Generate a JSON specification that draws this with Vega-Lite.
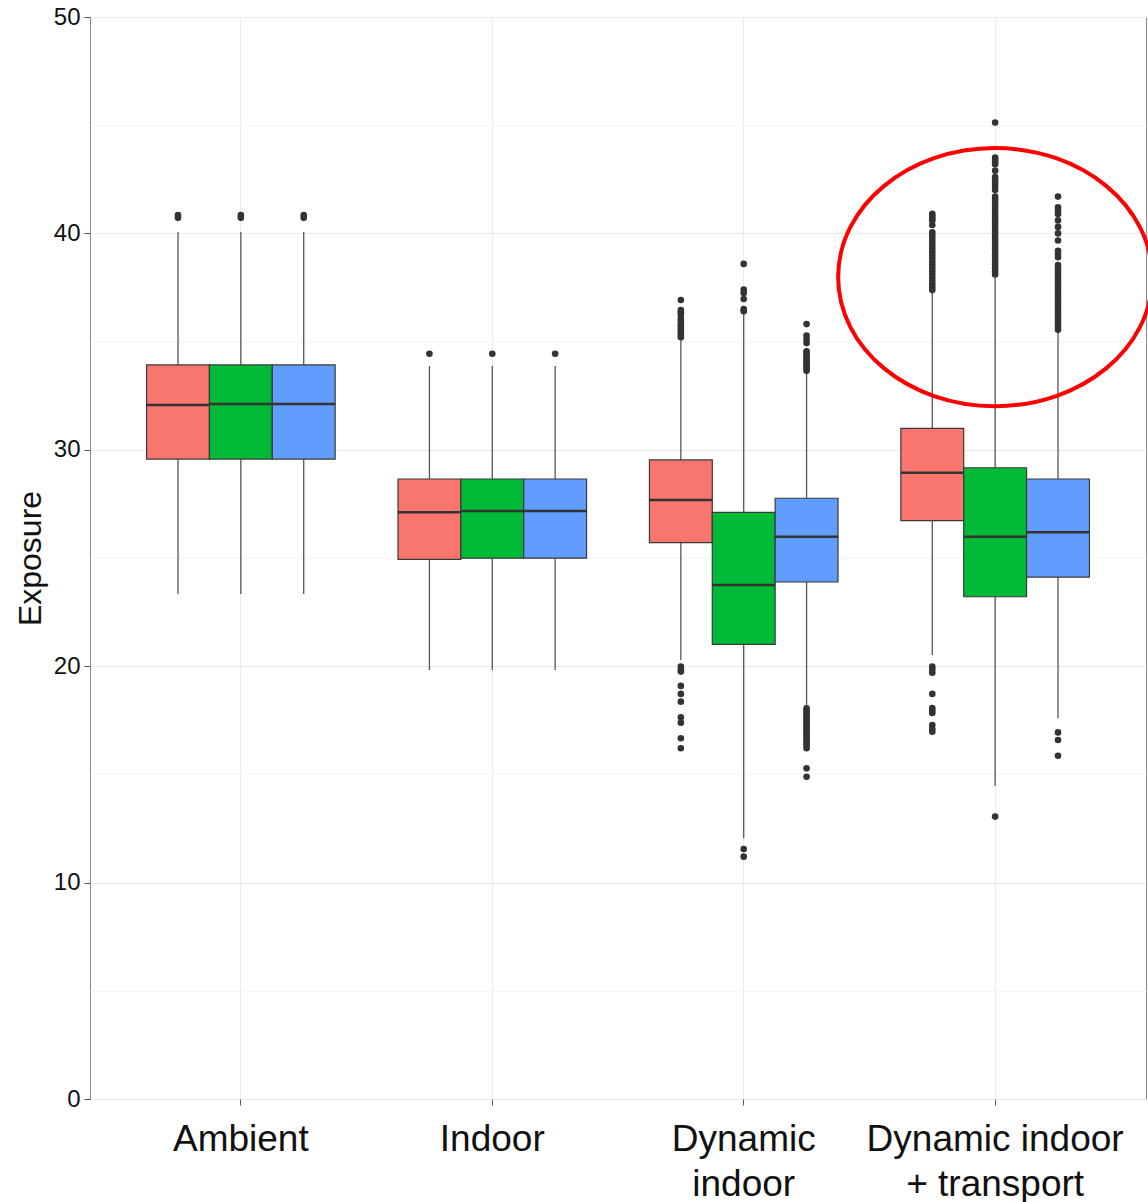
{
  "$schema": "https://vega.github.io/schema/vega-lite/v6.json",
  "width": 1056,
  "height": 1082,
  "autosize": "none",
  "padding": {"left": 90, "top": 17, "right": 2, "bottom": 103},
  "background": "white",
  "config": {
    "view": {"stroke": "#8a8a8a", "strokeWidth": 1},
    "font": "Liberation Sans",
    "axis": {"domain": false, "labelFont": "Liberation Sans", "titleFont": "Liberation Sans", "labelColor": "#111", "titleColor": "#111", "titleFontWeight": "normal"}
  },
  "datasets": {
    "boxes": [
      {"cat": "Ambient", "grp": "G1", "lo": 23.34, "q1": 29.57, "med": 32.07, "q3": 33.92, "hi": 40.06},
      {"cat": "Ambient", "grp": "G2", "lo": 23.34, "q1": 29.57, "med": 32.12, "q3": 33.92, "hi": 40.06},
      {"cat": "Ambient", "grp": "G3", "lo": 23.34, "q1": 29.57, "med": 32.12, "q3": 33.92, "hi": 40.06},
      {"cat": "Indoor", "grp": "G1", "lo": 19.82, "q1": 24.94, "med": 27.11, "q3": 28.65, "hi": 33.87},
      {"cat": "Indoor", "grp": "G2", "lo": 19.82, "q1": 24.99, "med": 27.17, "q3": 28.65, "hi": 33.87},
      {"cat": "Indoor", "grp": "G3", "lo": 19.82, "q1": 24.99, "med": 27.17, "q3": 28.65, "hi": 33.87},
      {"cat": "Dynamic indoor", "grp": "G1", "lo": 20.29, "q1": 25.71, "med": 27.68, "q3": 29.53, "hi": 35.07},
      {"cat": "Dynamic indoor", "grp": "G2", "lo": 12.05, "q1": 21.01, "med": 23.75, "q3": 27.11, "hi": 36.3},
      {"cat": "Dynamic indoor", "grp": "G3", "lo": 18.21, "q1": 23.89, "med": 25.98, "q3": 27.76, "hi": 33.55},
      {"cat": "Dynamic indoor + transport", "grp": "G1", "lo": 20.52, "q1": 26.73, "med": 28.94, "q3": 30.99, "hi": 37.3},
      {"cat": "Dynamic indoor + transport", "grp": "G2", "lo": 14.46, "q1": 23.21, "med": 25.98, "q3": 29.17, "hi": 38.0},
      {"cat": "Dynamic indoor + transport", "grp": "G3", "lo": 17.59, "q1": 24.12, "med": 26.19, "q3": 28.65, "hi": 35.45}
    ],
    "outliers": [
      {"cat": "Ambient", "grp": "G1", "v": 40.72}, {"cat": "Ambient", "grp": "G1", "v": 40.85},
      {"cat": "Ambient", "grp": "G2", "v": 40.72}, {"cat": "Ambient", "grp": "G2", "v": 40.85},
      {"cat": "Ambient", "grp": "G3", "v": 40.72}, {"cat": "Ambient", "grp": "G3", "v": 40.85},
      {"cat": "Indoor", "grp": "G1", "v": 34.44},
      {"cat": "Indoor", "grp": "G2", "v": 34.44},
      {"cat": "Indoor", "grp": "G3", "v": 34.44},

      {"cat": "Dynamic indoor", "grp": "G1", "v": 36.92}, {"cat": "Dynamic indoor", "grp": "G1", "v": 36.46},
      {"cat": "Dynamic indoor", "grp": "G1", "v": 36.35}, {"cat": "Dynamic indoor", "grp": "G1", "v": 36.25},
      {"cat": "Dynamic indoor", "grp": "G1", "v": 36.05}, {"cat": "Dynamic indoor", "grp": "G1", "v": 35.95},
      {"cat": "Dynamic indoor", "grp": "G1", "v": 35.8}, {"cat": "Dynamic indoor", "grp": "G1", "v": 35.7},
      {"cat": "Dynamic indoor", "grp": "G1", "v": 35.6}, {"cat": "Dynamic indoor", "grp": "G1", "v": 35.5},
      {"cat": "Dynamic indoor", "grp": "G1", "v": 35.4}, {"cat": "Dynamic indoor", "grp": "G1", "v": 35.3},
      {"cat": "Dynamic indoor", "grp": "G1", "v": 35.2},
      {"cat": "Dynamic indoor", "grp": "G1", "v": 19.98}, {"cat": "Dynamic indoor", "grp": "G1", "v": 19.85},
      {"cat": "Dynamic indoor", "grp": "G1", "v": 19.75}, {"cat": "Dynamic indoor", "grp": "G1", "v": 19.09},
      {"cat": "Dynamic indoor", "grp": "G1", "v": 18.72}, {"cat": "Dynamic indoor", "grp": "G1", "v": 18.36},
      {"cat": "Dynamic indoor", "grp": "G1", "v": 17.64}, {"cat": "Dynamic indoor", "grp": "G1", "v": 17.39},
      {"cat": "Dynamic indoor", "grp": "G1", "v": 16.67}, {"cat": "Dynamic indoor", "grp": "G1", "v": 16.21},
      {"cat": "Dynamic indoor", "grp": "G2", "v": 38.59}, {"cat": "Dynamic indoor", "grp": "G2", "v": 37.4},
      {"cat": "Dynamic indoor", "grp": "G2", "v": 37.25}, {"cat": "Dynamic indoor", "grp": "G2", "v": 36.97},
      {"cat": "Dynamic indoor", "grp": "G2", "v": 36.5}, {"cat": "Dynamic indoor", "grp": "G2", "v": 36.4},
      {"cat": "Dynamic indoor", "grp": "G2", "v": 11.55}, {"cat": "Dynamic indoor", "grp": "G2", "v": 11.2},
      {"cat": "Dynamic indoor", "grp": "G3", "v": 35.81}, {"cat": "Dynamic indoor", "grp": "G3", "v": 35.28},
      {"cat": "Dynamic indoor", "grp": "G3", "v": 35.1}, {"cat": "Dynamic indoor", "grp": "G3", "v": 34.93},
      {"cat": "Dynamic indoor", "grp": "G3", "v": 34.55}, {"cat": "Dynamic indoor", "grp": "G3", "v": 34.45},
      {"cat": "Dynamic indoor", "grp": "G3", "v": 34.35}, {"cat": "Dynamic indoor", "grp": "G3", "v": 34.25},
      {"cat": "Dynamic indoor", "grp": "G3", "v": 34.15}, {"cat": "Dynamic indoor", "grp": "G3", "v": 34.05},
      {"cat": "Dynamic indoor", "grp": "G3", "v": 33.95}, {"cat": "Dynamic indoor", "grp": "G3", "v": 33.85},
      {"cat": "Dynamic indoor", "grp": "G3", "v": 33.75}, {"cat": "Dynamic indoor", "grp": "G3", "v": 33.65},
      {"cat": "Dynamic indoor", "grp": "G3", "v": 18.05}, {"cat": "Dynamic indoor", "grp": "G3", "v": 17.95},
      {"cat": "Dynamic indoor", "grp": "G3", "v": 17.85}, {"cat": "Dynamic indoor", "grp": "G3", "v": 17.75},
      {"cat": "Dynamic indoor", "grp": "G3", "v": 17.65}, {"cat": "Dynamic indoor", "grp": "G3", "v": 17.55},
      {"cat": "Dynamic indoor", "grp": "G3", "v": 17.45}, {"cat": "Dynamic indoor", "grp": "G3", "v": 17.35},
      {"cat": "Dynamic indoor", "grp": "G3", "v": 17.25}, {"cat": "Dynamic indoor", "grp": "G3", "v": 17.15},
      {"cat": "Dynamic indoor", "grp": "G3", "v": 17.05}, {"cat": "Dynamic indoor", "grp": "G3", "v": 16.95},
      {"cat": "Dynamic indoor", "grp": "G3", "v": 16.85}, {"cat": "Dynamic indoor", "grp": "G3", "v": 16.75},
      {"cat": "Dynamic indoor", "grp": "G3", "v": 16.65}, {"cat": "Dynamic indoor", "grp": "G3", "v": 16.55},
      {"cat": "Dynamic indoor", "grp": "G3", "v": 16.45}, {"cat": "Dynamic indoor", "grp": "G3", "v": 16.35},
      {"cat": "Dynamic indoor", "grp": "G3", "v": 16.21}, {"cat": "Dynamic indoor", "grp": "G3", "v": 15.28},
      {"cat": "Dynamic indoor", "grp": "G3", "v": 14.89},

      {"cat": "Dynamic indoor + transport", "grp": "G1", "v": 40.9}, {"cat": "Dynamic indoor + transport", "grp": "G1", "v": 40.8},
      {"cat": "Dynamic indoor + transport", "grp": "G1", "v": 40.7}, {"cat": "Dynamic indoor + transport", "grp": "G1", "v": 40.6},
      {"cat": "Dynamic indoor + transport", "grp": "G1", "v": 40.39}, {"cat": "Dynamic indoor + transport", "grp": "G1", "v": 40.05},
      {"cat": "Dynamic indoor + transport", "grp": "G1", "v": 39.9}, {"cat": "Dynamic indoor + transport", "grp": "G1", "v": 39.75},
      {"cat": "Dynamic indoor + transport", "grp": "G1", "v": 39.6}, {"cat": "Dynamic indoor + transport", "grp": "G1", "v": 39.45},
      {"cat": "Dynamic indoor + transport", "grp": "G1", "v": 39.3}, {"cat": "Dynamic indoor + transport", "grp": "G1", "v": 39.15},
      {"cat": "Dynamic indoor + transport", "grp": "G1", "v": 39.0}, {"cat": "Dynamic indoor + transport", "grp": "G1", "v": 38.85},
      {"cat": "Dynamic indoor + transport", "grp": "G1", "v": 38.7}, {"cat": "Dynamic indoor + transport", "grp": "G1", "v": 38.55},
      {"cat": "Dynamic indoor + transport", "grp": "G1", "v": 38.4}, {"cat": "Dynamic indoor + transport", "grp": "G1", "v": 38.25},
      {"cat": "Dynamic indoor + transport", "grp": "G1", "v": 38.1}, {"cat": "Dynamic indoor + transport", "grp": "G1", "v": 37.95},
      {"cat": "Dynamic indoor + transport", "grp": "G1", "v": 37.8}, {"cat": "Dynamic indoor + transport", "grp": "G1", "v": 37.65},
      {"cat": "Dynamic indoor + transport", "grp": "G1", "v": 37.5}, {"cat": "Dynamic indoor + transport", "grp": "G1", "v": 37.38},
      {"cat": "Dynamic indoor + transport", "grp": "G1", "v": 19.98}, {"cat": "Dynamic indoor + transport", "grp": "G1", "v": 19.85},
      {"cat": "Dynamic indoor + transport", "grp": "G1", "v": 19.7}, {"cat": "Dynamic indoor + transport", "grp": "G1", "v": 18.72},
      {"cat": "Dynamic indoor + transport", "grp": "G1", "v": 18.07}, {"cat": "Dynamic indoor + transport", "grp": "G1", "v": 17.95},
      {"cat": "Dynamic indoor + transport", "grp": "G1", "v": 17.84}, {"cat": "Dynamic indoor + transport", "grp": "G1", "v": 17.28},
      {"cat": "Dynamic indoor + transport", "grp": "G1", "v": 17.1}, {"cat": "Dynamic indoor + transport", "grp": "G1", "v": 16.97},
      {"cat": "Dynamic indoor + transport", "grp": "G2", "v": 45.12}, {"cat": "Dynamic indoor + transport", "grp": "G2", "v": 43.5},
      {"cat": "Dynamic indoor + transport", "grp": "G2", "v": 43.4}, {"cat": "Dynamic indoor + transport", "grp": "G2", "v": 43.3},
      {"cat": "Dynamic indoor + transport", "grp": "G2", "v": 43.2}, {"cat": "Dynamic indoor + transport", "grp": "G2", "v": 42.9},
      {"cat": "Dynamic indoor + transport", "grp": "G2", "v": 42.6}, {"cat": "Dynamic indoor + transport", "grp": "G2", "v": 42.45},
      {"cat": "Dynamic indoor + transport", "grp": "G2", "v": 42.3}, {"cat": "Dynamic indoor + transport", "grp": "G2", "v": 42.15},
      {"cat": "Dynamic indoor + transport", "grp": "G2", "v": 42.0}, {"cat": "Dynamic indoor + transport", "grp": "G2", "v": 41.7},
      {"cat": "Dynamic indoor + transport", "grp": "G2", "v": 41.55}, {"cat": "Dynamic indoor + transport", "grp": "G2", "v": 41.4},
      {"cat": "Dynamic indoor + transport", "grp": "G2", "v": 41.25}, {"cat": "Dynamic indoor + transport", "grp": "G2", "v": 41.1},
      {"cat": "Dynamic indoor + transport", "grp": "G2", "v": 40.95}, {"cat": "Dynamic indoor + transport", "grp": "G2", "v": 40.8},
      {"cat": "Dynamic indoor + transport", "grp": "G2", "v": 40.65}, {"cat": "Dynamic indoor + transport", "grp": "G2", "v": 40.5},
      {"cat": "Dynamic indoor + transport", "grp": "G2", "v": 40.35}, {"cat": "Dynamic indoor + transport", "grp": "G2", "v": 40.2},
      {"cat": "Dynamic indoor + transport", "grp": "G2", "v": 40.05}, {"cat": "Dynamic indoor + transport", "grp": "G2", "v": 39.9},
      {"cat": "Dynamic indoor + transport", "grp": "G2", "v": 39.75}, {"cat": "Dynamic indoor + transport", "grp": "G2", "v": 39.6},
      {"cat": "Dynamic indoor + transport", "grp": "G2", "v": 39.45}, {"cat": "Dynamic indoor + transport", "grp": "G2", "v": 39.3},
      {"cat": "Dynamic indoor + transport", "grp": "G2", "v": 39.15}, {"cat": "Dynamic indoor + transport", "grp": "G2", "v": 39.0},
      {"cat": "Dynamic indoor + transport", "grp": "G2", "v": 38.85}, {"cat": "Dynamic indoor + transport", "grp": "G2", "v": 38.7},
      {"cat": "Dynamic indoor + transport", "grp": "G2", "v": 38.55}, {"cat": "Dynamic indoor + transport", "grp": "G2", "v": 38.4},
      {"cat": "Dynamic indoor + transport", "grp": "G2", "v": 38.25}, {"cat": "Dynamic indoor + transport", "grp": "G2", "v": 38.1},
      {"cat": "Dynamic indoor + transport", "grp": "G2", "v": 13.05},
      {"cat": "Dynamic indoor + transport", "grp": "G3", "v": 41.7}, {"cat": "Dynamic indoor + transport", "grp": "G3", "v": 41.2},
      {"cat": "Dynamic indoor + transport", "grp": "G3", "v": 41.05}, {"cat": "Dynamic indoor + transport", "grp": "G3", "v": 40.9},
      {"cat": "Dynamic indoor + transport", "grp": "G3", "v": 40.6}, {"cat": "Dynamic indoor + transport", "grp": "G3", "v": 40.3},
      {"cat": "Dynamic indoor + transport", "grp": "G3", "v": 40.0}, {"cat": "Dynamic indoor + transport", "grp": "G3", "v": 39.67},
      {"cat": "Dynamic indoor + transport", "grp": "G3", "v": 39.2}, {"cat": "Dynamic indoor + transport", "grp": "G3", "v": 39.05},
      {"cat": "Dynamic indoor + transport", "grp": "G3", "v": 38.9}, {"cat": "Dynamic indoor + transport", "grp": "G3", "v": 38.54},
      {"cat": "Dynamic indoor + transport", "grp": "G3", "v": 38.4}, {"cat": "Dynamic indoor + transport", "grp": "G3", "v": 38.25},
      {"cat": "Dynamic indoor + transport", "grp": "G3", "v": 38.1}, {"cat": "Dynamic indoor + transport", "grp": "G3", "v": 37.95},
      {"cat": "Dynamic indoor + transport", "grp": "G3", "v": 37.8}, {"cat": "Dynamic indoor + transport", "grp": "G3", "v": 37.65},
      {"cat": "Dynamic indoor + transport", "grp": "G3", "v": 37.5}, {"cat": "Dynamic indoor + transport", "grp": "G3", "v": 37.35},
      {"cat": "Dynamic indoor + transport", "grp": "G3", "v": 37.2}, {"cat": "Dynamic indoor + transport", "grp": "G3", "v": 37.05},
      {"cat": "Dynamic indoor + transport", "grp": "G3", "v": 36.9}, {"cat": "Dynamic indoor + transport", "grp": "G3", "v": 36.75},
      {"cat": "Dynamic indoor + transport", "grp": "G3", "v": 36.6}, {"cat": "Dynamic indoor + transport", "grp": "G3", "v": 36.45},
      {"cat": "Dynamic indoor + transport", "grp": "G3", "v": 36.3}, {"cat": "Dynamic indoor + transport", "grp": "G3", "v": 36.15},
      {"cat": "Dynamic indoor + transport", "grp": "G3", "v": 36.0}, {"cat": "Dynamic indoor + transport", "grp": "G3", "v": 35.85},
      {"cat": "Dynamic indoor + transport", "grp": "G3", "v": 35.7}, {"cat": "Dynamic indoor + transport", "grp": "G3", "v": 35.55},
      {"cat": "Dynamic indoor + transport", "grp": "G3", "v": 16.94}, {"cat": "Dynamic indoor + transport", "grp": "G3", "v": 16.59},
      {"cat": "Dynamic indoor + transport", "grp": "G3", "v": 15.86}
    ],
    "highlight": [
      {"cat": "Dynamic indoor + transport", "v": 37.98}
    ]
  },
  "encoding": {
    "x": {
      "field": "cat",
      "type": "nominal",
      "sort": ["Ambient", "Indoor", "Dynamic indoor", "Dynamic indoor + transport"],
      "scale": {"paddingInner": 0, "paddingOuter": 0.1},
      "axis": {
        "title": null,
        "labelAngle": 0,
        "labelFontSize": 37,
        "labelLineHeight": 45,
        "labelPadding": 16,
        "labelBaseline": "top",
        "labelLimit": 0,
        "labelOverlap": false,
        "labelBound": false,
        "labelExpr": "datum.value == 'Dynamic indoor' ? ['Dynamic', 'indoor'] : datum.value == 'Dynamic indoor + transport' ? ['Dynamic indoor', '+ transport'] : datum.label",
        "bandPosition": 0.5,
        "grid": true,
        "gridColor": "#ebebeb",
        "gridWidth": 1,
        "tickSize": 6,
        "tickColor": "#555",
        "tickWidth": 1
      }
    }
  },
  "layer": [
    {
      "data": {"name": "boxes"},
      "mark": {"type": "rule", "color": "#555", "strokeWidth": 1.3},
      "encoding": {
        "xOffset": {"field": "grp", "type": "nominal", "scale": {"paddingInner": 0, "paddingOuter": 0.5}},
        "y": {
          "field": "lo",
          "type": "quantitative",
          "scale": {"domain": [0, 50], "nice": false},
          "axis": {
            "title": "Exposure",
            "titleFontSize": 32,
            "titlePadding": 6,
            "values": [0, 5, 10, 15, 20, 25, 30, 35, 40, 45, 50],
            "labelExpr": "datum.value % 10 === 0 ? datum.label : ''",
            "labelFontSize": 24,
            "labelPadding": 4,
            "grid": true,
            "gridColor": {"condition": {"test": "datum.value % 10 !== 0", "value": "#f5f5f5"}, "value": "#e9e9e9"},
            "tickSize": 6,
            "tickColor": "#555",
            "tickOpacity": {"condition": {"test": "datum.value % 10 !== 0", "value": 0}, "value": 1}
          }
        },
        "y2": {"field": "hi"}
      }
    },
    {
      "data": {"name": "boxes"},
      "mark": {"type": "bar", "stroke": "#3a3a3a", "strokeWidth": 1.2},
      "encoding": {
        "xOffset": {"field": "grp", "type": "nominal", "scale": {"paddingInner": 0, "paddingOuter": 0.5}},
        "y": {"field": "q1", "type": "quantitative"},
        "y2": {"field": "q3"},
        "fill": {"field": "grp", "type": "nominal", "scale": {"domain": ["G1", "G2", "G3"], "range": ["#F8766D", "#00BA38", "#619CFF"]}, "legend": null}
      }
    },
    {
      "data": {"name": "boxes"},
      "mark": {"type": "tick", "orient": "horizontal", "thickness": 2.5, "color": "#333333", "opacity": 1},
      "encoding": {
        "xOffset": {"field": "grp", "type": "nominal", "scale": {"paddingInner": 0, "paddingOuter": 0.5}},
        "y": {"field": "med", "type": "quantitative"},
        "size": {"value": 63}
      }
    },
    {
      "data": {"name": "outliers"},
      "mark": {"type": "point", "filled": true, "size": 44, "color": "#333333", "opacity": 1},
      "encoding": {
        "xOffset": {"field": "grp", "type": "nominal", "scale": {"paddingInner": 0, "paddingOuter": 0.5}},
        "y": {"field": "v", "type": "quantitative"}
      }
    },
    {
      "data": {"name": "highlight"},
      "mark": {
        "type": "point",
        "filled": false,
        "shape": "M-1,0 A1,0.822 0 1,1 1,0 A1,0.822 0 1,1 -1,0 Z",
        "size": 98596,
        "stroke": "#ff0000",
        "strokeWidth": 4,
        "opacity": 1
      },
      "encoding": {
        "y": {"field": "v", "type": "quantitative"}
      }
    }
  ]
}
